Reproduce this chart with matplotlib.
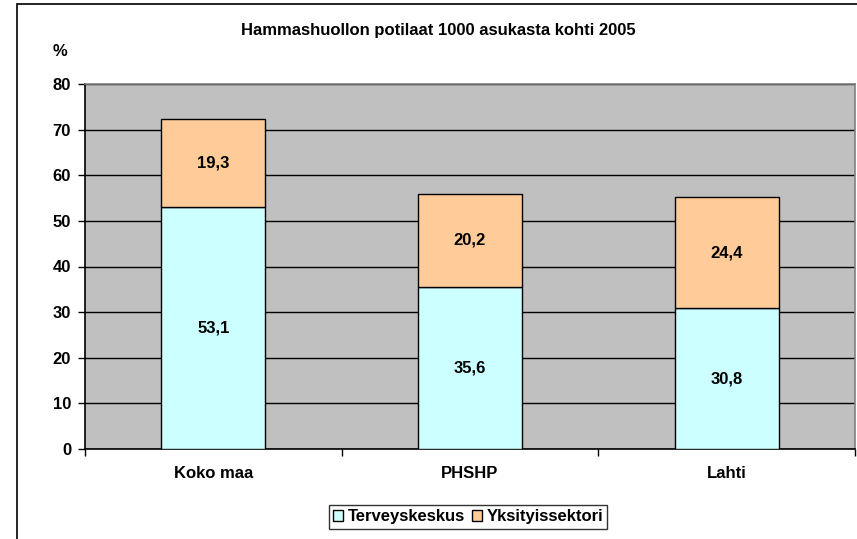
import matplotlib
matplotlib.use("Agg")
import matplotlib.pyplot as plt
from matplotlib.patches import Patch, Rectangle
import numpy as np

plt.rcParams["font.family"] = ["Liberation Sans", "DejaVu Sans"]
plt.rcParams["font.weight"] = "bold"

categories = ["Koko maa", "PHSHP", "Lahti"]
terveyskeskus = [53.1, 35.6, 30.8]
yksityissektori = [19.3, 20.2, 24.4]
series_names = ["Terveyskeskus", "Yksityissektori"]
title = "Hammashuollon potilaat 1000 asukasta kohti 2005"

col_tk = "#CCFFFF"
col_yk = "#FFCC99"
fs = 12

fig = plt.figure(figsize=(8.57, 5.39), dpi=100)
ax = fig.add_axes([85 / 857, 1 - 449 / 539, 770 / 857, 365 / 539])
ax.set_facecolor("#C0C0C0")

# outer chart border (cut off at right and bottom like the reference)
fig.patches.append(Rectangle((17 / 857, -0.1), 1.0, 1 - 4 / 539 + 0.1,
                             transform=fig.transFigure, fill=False,
                             edgecolor="black", linewidth=1.2))

x = np.arange(len(categories))
w = 0.405
ax.bar(x, terveyskeskus, w, color=col_tk, edgecolor="black", linewidth=1, zorder=3)
ax.bar(x, yksityissektori, w, bottom=terveyskeskus, color=col_yk,
       edgecolor="black", linewidth=1, zorder=3)

for xi, a, b in zip(x, terveyskeskus, yksityissektori):
    ax.text(xi, a / 2, f"{a:.1f}".replace(".", ","), ha="center", va="center",
            fontsize=fs, fontweight="bold", zorder=4)
    ax.text(xi, a + b / 2, f"{b:.1f}".replace(".", ","), ha="center", va="center",
            fontsize=fs, fontweight="bold", zorder=4)

ax.set_xlim(-0.5, 2.5)
ax.set_ylim(0, 80)
ax.set_yticks(range(0, 81, 10))
ax.yaxis.grid(True, color="black", linewidth=1, zorder=1)
ax.set_axisbelow(True)
ax.tick_params(axis="y", direction="out", length=5, width=1, labelsize=fs, pad=5)
for lab in ax.get_yticklabels():
    lab.set_fontweight("bold")

ax.set_xticks(x)
ax.set_xticklabels(categories, fontsize=fs, fontweight="bold")
ax.tick_params(axis="x", which="major", length=0, pad=12)
ax.set_xticks([-0.5, 0.5, 1.5, 2.5], minor=True)
ax.tick_params(axis="x", which="minor", direction="out", length=5, width=1)

ax.spines["left"].set_color("black")
ax.spines["bottom"].set_color("black")
ax.spines["top"].set_color("#808080")
ax.spines["right"].set_color("#808080")
for s in ax.spines.values():
    s.set_linewidth(1.2)

fig.text(438 / 857, 1 - 30 / 539, title, ha="center", va="center",
         fontsize=fs, fontweight="bold")
fig.text(60 / 857, 1 - 52 / 539, "%", ha="center", va="center",
         fontsize=fs, fontweight="bold")

handles = [Patch(facecolor=col_tk, edgecolor="black"),
           Patch(facecolor=col_yk, edgecolor="black")]
leg = fig.legend(handles, series_names, loc="center", ncol=2,
                 bbox_to_anchor=(468 / 857, 1 - 517 / 539),
                 prop={"size": fs, "weight": "bold"}, frameon=True,
                 fancybox=False, edgecolor="black", handlelength=0.6,
                 handleheight=0.6, handletextpad=0.3, columnspacing=0.4,
                 borderpad=0.25)
leg.get_frame().set_linewidth(1)

fig.savefig("out.png", dpi=100)
